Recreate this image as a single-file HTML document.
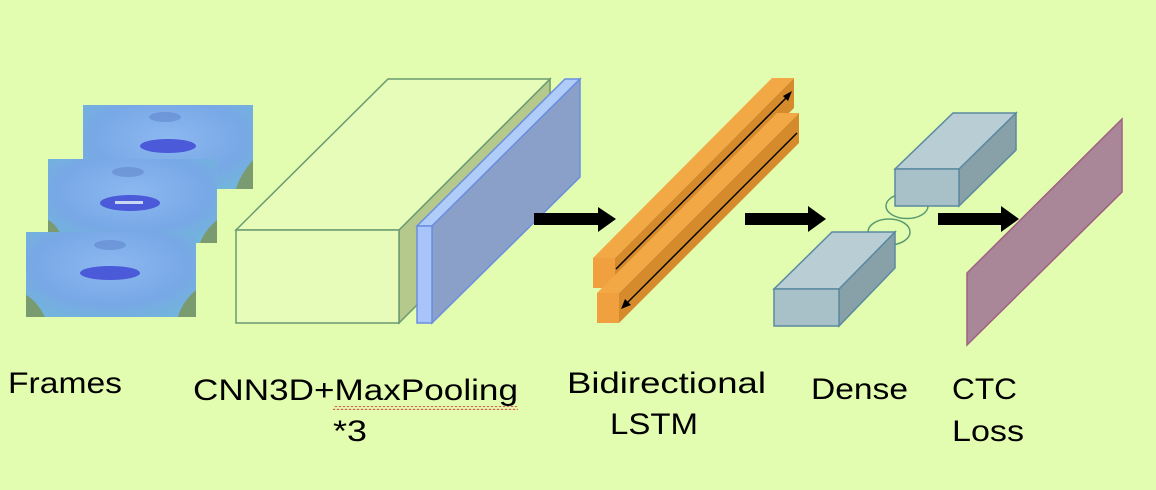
<!DOCTYPE html>
<html><head><meta charset="utf-8"><style>
html,body{margin:0;padding:0;background:#e3fdb0;}
svg{display:block}
text{font-family:"Liberation Sans",sans-serif;fill:#000}
</style></head><body>
<svg width="1156" height="490" viewBox="0 0 1156 490" xmlns="http://www.w3.org/2000/svg">
<defs>
<radialGradient id="face" cx="0.5" cy="0.4" r="0.75">
<stop offset="0" stop-color="#8cb8f0"/><stop offset="0.6" stop-color="#78a8e6"/><stop offset="1" stop-color="#70b8d8"/>
</radialGradient>
<pattern id="sq" x="0" y="0" width="4" height="4" patternUnits="userSpaceOnUse">
<path d="M0 3 L2 1 L4 3" fill="none" stroke="#d04040" stroke-width="0.8"/>
</pattern>
</defs>
<rect width="1156" height="490" fill="#e3fdb0"/>
<!-- frames -->
<g>
<rect x="83" y="105" width="170" height="84" fill="#7a9a70"/>
<path d="M83 105 L253 105 L253 160 Q240 175 236 189 L100 189 Q92 170 83 165 Z" fill="url(#face)"/>
<ellipse cx="168" cy="146" rx="28" ry="7" fill="#4a5ad8"/>
<ellipse cx="165" cy="117" rx="16" ry="5" fill="#5a80c8" opacity="0.5"/>
</g>
<g>
<rect x="48" y="159" width="169" height="84" fill="#7a9a70"/>
<path d="M48 159 L217 159 L217 220 Q205 230 200 243 L65 243 Q58 225 48 220 Z" fill="url(#face)"/>
<ellipse cx="130" cy="203" rx="30" ry="8" fill="#4a5ad8"/>
<rect x="115" y="201" width="28" height="3" fill="#c8d8f0"/>
<ellipse cx="128" cy="172" rx="16" ry="5" fill="#5a80c8" opacity="0.5"/>
</g>
<g>
<rect x="26" y="232" width="170" height="85" fill="#7a9a70"/>
<path d="M26 232 L196 232 L196 290 Q182 302 178 317 L45 317 Q36 300 26 295 Z" fill="url(#face)"/>
<ellipse cx="110" cy="273" rx="30" ry="7" fill="#4a5ad8"/>
<ellipse cx="110" cy="245" rx="16" ry="5" fill="#5a80c8" opacity="0.5"/>
</g>
<!-- CNN box -->
<polygon points="399,230 550,79 550,172 399,323" fill="#b6c98c" stroke="#6a9a70" stroke-width="1.5"/>
<polygon points="236,230 399,230 550,79 388,79" fill="#e6fcb8" stroke="#6a9a70" stroke-width="1.5"/>
<rect x="236" y="230" width="163" height="93" fill="#e6fcb8" stroke="#6a9a70" stroke-width="1.5"/>
<!-- blue slab -->
<polygon points="417,226 432,226 580,79 565,79" fill="#b0ccf8" stroke="#6a8ee0" stroke-width="1.5"/>
<polygon points="432,226 580,79 580,177 432,323" fill="#8aa0c8" stroke="#6a8ee0" stroke-width="1.5"/>
<rect x="417" y="226" width="15" height="97" fill="#a8c4f8" stroke="#6a8ee0" stroke-width="1.5"/>
<!-- arrows -->
<polygon points="534,213 598,213 598,207 616,219 598,232 598,225 534,225" fill="#000"/>
<polygon points="745,213 808,213 808,206 826,219 808,232 808,225 745,225" fill="#000"/>
<polygon points="938,213 1001,213 1001,206 1019,219 1001,232 1001,225 938,225" fill="#000"/>
<!-- LSTM bars -->
<polygon points="615,258 794,78 794,108 615,288" fill="#d58a2c"/>
<polygon points="593,258 615,258 794,78 772,78" fill="#f2a845"/>
<rect x="593" y="258" width="22" height="30" fill="#f0a03e"/>
<polygon points="619,293 799,113 799,143 619,323" fill="#d58a2c"/>
<polygon points="597,293 619,293 799,113 777,113" fill="#f2a845"/>
<rect x="597" y="293" width="22" height="30" fill="#f0a03e"/>
<line x1="616" y1="269" x2="788" y2="96" stroke="#000" stroke-width="1.5"/>
<polygon points="792,91 783,96 788,101" fill="#000"/>
<line x1="797" y1="133" x2="626" y2="304" stroke="#000" stroke-width="1.5"/>
<polygon points="621,309 625,299 631,305" fill="#000"/>
<!-- dense -->
<ellipse cx="907" cy="206" rx="21" ry="12.5" fill="none" stroke="#5a9a70" stroke-width="1.5"/>
<ellipse cx="889" cy="232" rx="21" ry="13" fill="none" stroke="#5a9a70" stroke-width="1.5"/>
<polygon points="959,169 1016,113 1016,150 959,206" fill="#88a0a8" stroke="#5a8aa0" stroke-width="1.5"/>
<polygon points="895,169 959,169 1016,113 953,113" fill="#b8cdd4" stroke="#5a8aa0" stroke-width="1.5"/>
<rect x="895" y="169" width="64" height="37" fill="#a8c0c8" stroke="#5a8aa0" stroke-width="1.5"/>
<polygon points="839,289 895,232 895,268 839,326" fill="#88a0a8" stroke="#5a8aa0" stroke-width="1.5"/>
<polygon points="774,289 839,289 895,232 832,232" fill="#b8cdd4" stroke="#5a8aa0" stroke-width="1.5"/>
<rect x="774" y="289" width="65" height="37" fill="#a8c0c8" stroke="#5a8aa0" stroke-width="1.5"/>
<!-- CTC plane -->
<polygon points="967,273 1122,119 1122,192 967,345" fill="#a98698" stroke="#a06080" stroke-width="1.5"/>
<!-- labels -->
<text x="8" y="393" font-size="30" textLength="114" lengthAdjust="spacingAndGlyphs">Frames</text>
<text x="193" y="400" font-size="30" textLength="325" lengthAdjust="spacingAndGlyphs">CNN3D+MaxPooling</text>
<rect x="333" y="406" width="185" height="4" fill="url(#sq)"/>
<text x="333" y="441" font-size="30" textLength="34" lengthAdjust="spacingAndGlyphs">*3</text>
<text x="567" y="393" font-size="30" textLength="199" lengthAdjust="spacingAndGlyphs">Bidirectional</text>
<text x="610" y="434" font-size="30" textLength="88" lengthAdjust="spacingAndGlyphs">LSTM</text>
<text x="811" y="399" font-size="30" textLength="97" lengthAdjust="spacingAndGlyphs">Dense</text>
<text x="952" y="399" font-size="30" textLength="65" lengthAdjust="spacingAndGlyphs">CTC</text>
<text x="952" y="441" font-size="30" textLength="72" lengthAdjust="spacingAndGlyphs">Loss</text>
</svg>
</body></html>
